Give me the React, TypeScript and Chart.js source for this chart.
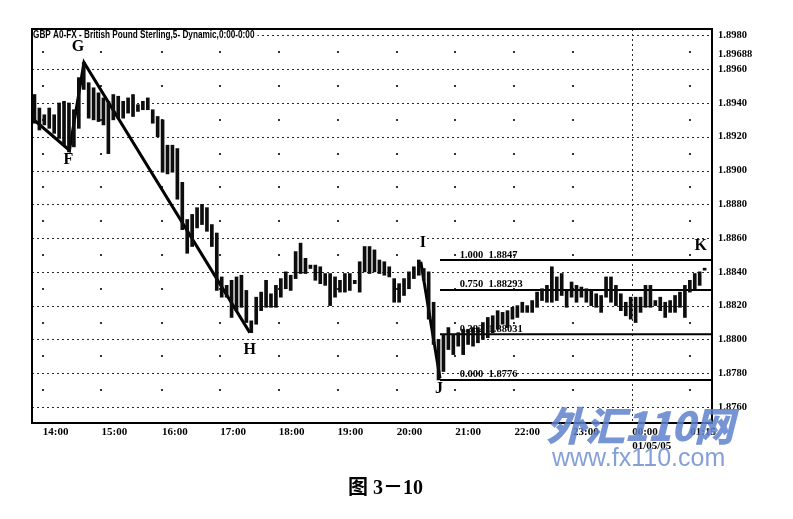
import React, { useEffect, useRef } from 'react';
import { Chart, registerables } from 'chart.js';

Chart.register(...registerables);

// 5-minute bars, GBP/USD (high / low per bar)
const barHighs = [
  1.8945, 1.8937, 1.8933, 1.8937, 1.8933, 1.8940, 1.8941, 1.8940, 1.8936, 1.8955,
  1.8964, 1.8952, 1.8949, 1.8946, 1.8943, 1.8941, 1.8945, 1.8944, 1.8941, 1.8943,
  1.8945, 1.8939, 1.8941, 1.8943, 1.8936, 1.8932, 1.8930, 1.8915, 1.8915, 1.8913,
  1.8893, 1.8871, 1.8874, 1.8878, 1.8880, 1.8878, 1.8868, 1.8863, 1.8837, 1.8832,
  1.8835, 1.8837, 1.8838, 1.8829, 1.8811, 1.8825, 1.8828, 1.8835, 1.8827, 1.8832,
  1.8836, 1.8840, 1.8838, 1.8852, 1.8857, 1.8848, 1.8844, 1.8844, 1.8843, 1.8839,
  1.8839, 1.8837, 1.8835, 1.8839, 1.8839, 1.8835, 1.8846, 1.8855, 1.8855, 1.8853,
  1.8847, 1.8846, 1.8843, 1.8836, 1.8833, 1.8836, 1.8840, 1.8843, 1.8847, 1.8842,
  1.8840, 1.8822, 1.8800, 1.8803, 1.8807, 1.8803, 1.8804, 1.8806, 1.8806, 1.8807,
  1.8807, 1.8810, 1.8813, 1.8814, 1.8817, 1.8816, 1.8817, 1.8819, 1.8820, 1.8822,
  1.8820, 1.8823, 1.8828, 1.8830, 1.8832, 1.8843, 1.8837, 1.8839, 1.8829, 1.8834,
  1.8832, 1.8831, 1.8830, 1.8829, 1.8827, 1.8826, 1.8837, 1.8837, 1.8832, 1.8827,
  1.8822, 1.8825, 1.8825, 1.8825, 1.8832, 1.8832, 1.8823, 1.8825, 1.8822, 1.8823,
  1.8826, 1.8828, 1.8832, 1.8835, 1.8839, 1.8840, 1.8842,
];
const barLows = [
  1.8928, 1.8924, 1.8927, 1.8925, 1.8922, 1.8919, 1.8915, 1.8911, 1.8914, 1.8925,
  1.8948, 1.8931, 1.8930, 1.8929, 1.8927, 1.8910, 1.8930, 1.8931, 1.8931, 1.8934,
  1.8932, 1.8935, 1.8936, 1.8936, 1.8928, 1.8920, 1.8899, 1.8898, 1.8899, 1.8883,
  1.8865, 1.8851, 1.8855, 1.8866, 1.8868, 1.8864, 1.8855, 1.8829, 1.8825, 1.8825,
  1.8813, 1.8817, 1.8819, 1.8810, 1.8804, 1.8809, 1.8817, 1.8819, 1.8819, 1.8819,
  1.8825, 1.8830, 1.8829, 1.8836, 1.8839, 1.8839, 1.8842, 1.8835, 1.8833, 1.8832,
  1.8820, 1.8825, 1.8828, 1.8828, 1.8829, 1.8833, 1.8828, 1.8840, 1.8839, 1.8840,
  1.8839, 1.8838, 1.8837, 1.8822, 1.8822, 1.8826, 1.8830, 1.8836, 1.8838, 1.8835,
  1.8812, 1.8797, 1.8776, 1.8781, 1.8794, 1.8791, 1.8796, 1.8791, 1.8797, 1.8796,
  1.8798, 1.8800, 1.8801, 1.8804, 1.8806, 1.8809, 1.8807, 1.8812, 1.8813, 1.8816,
  1.8816, 1.8816, 1.8819, 1.8823, 1.8822, 1.8822, 1.8823, 1.8826, 1.8819, 1.8825,
  1.8822, 1.8825, 1.8822, 1.8820, 1.8819, 1.8816, 1.8825, 1.8822, 1.8820, 1.8817,
  1.8814, 1.8812, 1.8810, 1.8816, 1.8819, 1.8819, 1.8820, 1.8817, 1.8813, 1.8816,
  1.8816, 1.8819, 1.8813, 1.8828, 1.8830, 1.8832, 1.8841,
];

// F - G - H swing line (bar index, price)
const swingX = [-0.5, 7.1, 10.05, 43.7];
const swingY = [1.8931, 1.8912, 1.8964, 1.8804];
// I - J drop line
const dropX = [78.4, 82.3];
const dropY = [1.8846, 1.8777];

// Fibonacci levels drawn from J
const fibRatios = ['1.000', '0.750', '0.382', '0.000'];
const fibLevels = [1.8847, 1.88293, 1.88031, 1.8776];
const fibTexts = ['1.8847', '1.88293', '1.88031', '1.8776'];
const fibStartX = 82.3;
const fibTextX = 86.3;

// point letters
const markNames = ['G', 'F', 'H', 'I', 'J', 'K'];
const markX = [10.05, 7.1, 43.7, 78.4, 82.3, 136];
const markY = [1.8964, 1.8912, 1.8804, 1.8846, 1.8777, 1.8842];

// axes
const xMin = -0.5;
const xMax = 137.5;
const xTickPos = [1.7, 13.6, 25.9, 37.7, 49.6, 61.5, 73.5, 85.4, 97.4, 109.3, 121.3, 133.1];
const xTickLabels = ['14:00', '15:00', '16:00', '17:00', '18:00', '19:00', '20:00', '21:00', '22:00', '23:00', '00:00', '01:15'];
const dayTickIndex = 10;
const dayLabel = '01/05/05';

const yMin = 1.87505;
const yMax = 1.89838;
const gridLevels = [1.8760, 1.8780, 1.8800, 1.8820, 1.8840, 1.8860, 1.8880, 1.8900, 1.8920, 1.8940, 1.8960, 1.8980];
const yTickValues = [1.8760, 1.8780, 1.8800, 1.8820, 1.8840, 1.8860, 1.8880, 1.8900, 1.8920, 1.8940, 1.8960, 1.89688, 1.8980];
const yTickLabels = ['1.8760', '1.8780', '1.8800', '1.8820', '1.8840', '1.8860', '1.8880', '1.8900', '1.8920', '1.8940', '1.8960', '1.89688', '1.8980'];

const chartTitle = 'GBP A0-FX - British Pound Sterling,5- Dynamic,0:00-0:00';
const caption = '图 3－10';

const SERIF = '"Liberation Serif", "Times New Roman", serif';

const bookPlugin = {
  id: 'bookPlugin',
  beforeDatasetsDraw(chart: any) {
    const { ctx, chartArea: a, scales } = chart;
    const x = scales.x;
    const y = scales.y;
    ctx.save();
    // dotted horizontal grid
    ctx.strokeStyle = '#2a2a2a';
    ctx.lineWidth = 1;
    ctx.setLineDash([2, 3]);
    gridLevels.forEach((v) => {
      const py = Math.round(y.getPixelForValue(v)) + 0.5;
      if (py <= a.top + 2 || py >= a.bottom - 2) return;
      ctx.beginPath();
      ctx.moveTo(a.left, py);
      ctx.lineTo(a.right, py);
      ctx.stroke();
    });
    // day separator
    const dx = Math.round(x.getPixelForValue(xTickPos[dayTickIndex])) + 0.5;
    ctx.beginPath();
    ctx.moveTo(dx, a.top);
    ctx.lineTo(dx, a.bottom);
    ctx.stroke();
    ctx.setLineDash([]);
    // sparse hour dots
    ctx.fillStyle = '#333';
    xTickPos.forEach((t, k) => {
      if (k === dayTickIndex) return;
      const px = Math.round(x.getPixelForValue(t));
      for (let j = 0; j < gridLevels.length - 1; j++) {
        const mid = (gridLevels[j] + gridLevels[j + 1]) / 2;
        const py = Math.round(y.getPixelForValue(mid));
        ctx.fillRect(px - 1, py - 1, 2, 2);
      }
    });
    // title (condensed)
    ctx.font = 'bold 10px "Liberation Sans", "DejaVu Sans", sans-serif';
    const tw = ctx.measureText(chartTitle).width * 0.82;
    ctx.fillStyle = '#fff';
    ctx.fillRect(a.left + 1, a.top + 1, tw + 3, 11);
    ctx.fillStyle = '#000';
    ctx.textBaseline = 'middle';
    ctx.textAlign = 'left';
    ctx.save();
    ctx.translate(a.left + 1, a.top + 6.5);
    ctx.scale(0.82, 1);
    ctx.fillText(chartTitle, 0, 0);
    ctx.restore();
    // fib labels (under the bars)
    ctx.font = 'bold 10.5px ' + SERIF;
    ctx.textBaseline = 'alphabetic';
    fibLevels.forEach((lv, k) => {
      const px = x.getPixelForValue(fibTextX);
      const py = y.getPixelForValue(lv) - 2.5;
      ctx.fillText(fibRatios[k] + '  ' + fibTexts[k], px, py);
    });
    ctx.restore();
  },
  afterDatasetsDraw(chart: any) {
    const { ctx, chartArea: a, scales } = chart;
    const x = scales.x;
    const y = scales.y;
    ctx.save();
    // letters
    const offs: Record<string, [number, number]> = {
      G: [-6, -16], F: [-1, 10], H: [0, 17], I: [2, -19], J: [-1, 11], K: [-4, -23],
    };
    ctx.font = 'bold 16px ' + SERIF;
    ctx.fillStyle = '#000';
    ctx.textAlign = 'center';
    ctx.textBaseline = 'middle';
    markNames.forEach((n, k) => {
      const o = offs[n];
      ctx.fillText(n, x.getPixelForValue(markX[k]) + o[0], y.getPixelForValue(markY[k]) + o[1]);
    });
    // frame
    ctx.strokeStyle = '#000';
    ctx.lineWidth = 2;
    ctx.strokeRect(a.left, a.top, a.right - a.left, a.bottom - a.top);
    ctx.restore();
  },
};

export default function App() {
  const ref = useRef<HTMLCanvasElement | null>(null);

  useEffect(() => {
    if (!ref.current) return;
    const bars = barHighs.map((h, i) => ({ x: i, y: [barLows[i], h] }));
    const lineStyle = { borderColor: '#000', pointRadius: 0, tension: 0, fill: false };
    const chart = new Chart(ref.current, {
      type: 'bar',
      data: {
        datasets: [
          {
            type: 'bar',
            data: bars as any,
            backgroundColor: '#0d0d0d',
            barThickness: 3,
            minBarLength: 2,
            grouped: false,
          } as any,
          {
            type: 'line',
            data: swingX.map((v, i) => ({ x: v, y: swingY[i] })),
            borderWidth: 3,
            ...lineStyle,
          } as any,
          {
            type: 'line',
            data: dropX.map((v, i) => ({ x: v, y: dropY[i] })),
            borderWidth: 3,
            ...lineStyle,
          } as any,
          ...fibLevels.map((lv) => ({
            type: 'line',
            data: [{ x: fibStartX, y: lv }, { x: xMax, y: lv }],
            borderWidth: 2,
            ...lineStyle,
          })) as any,
        ],
      },
      options: {
        animation: false,
        responsive: false,
        maintainAspectRatio: false,
        layout: { padding: { left: 32, top: 29, right: 0, bottom: 56 } },
        plugins: { legend: { display: false }, tooltip: { enabled: false } },
        scales: {
          x: {
            type: 'linear',
            min: xMin,
            max: xMax,
            offset: false,
            grid: { display: false, drawTicks: false },
            border: { display: false },
            afterBuildTicks: (s: any) => {
              s.ticks = xTickPos.map((v) => ({ value: v }));
            },
            afterFit: (s: any) => {
              s.height = 40;
            },
            ticks: {
              autoSkip: false,
              maxRotation: 0,
              minRotation: 0,
              align: 'start',
              padding: 3,
              color: '#000',
              font: { family: SERIF, size: 11, weight: 'bold' },
              callback: (_v: any, idx: number) =>
                idx === dayTickIndex ? [xTickLabels[idx], dayLabel] : xTickLabels[idx],
            },
          },
          y: {
            type: 'linear',
            position: 'right',
            min: yMin,
            max: yMax,
            grid: { display: false, drawTicks: false },
            border: { display: false },
            afterBuildTicks: (s: any) => {
              s.ticks = yTickValues.map((v) => ({ value: v }));
            },
            afterFit: (s: any) => {
              s.width = 81;
            },
            ticks: {
              autoSkip: false,
              padding: 6,
              color: '#000',
              font: { family: SERIF, size: 10.5, weight: 'bold' },
              callback: (_v: any, idx: number) => yTickLabels[idx],
            },
          },
        },
      } as any,
      plugins: [bookPlugin],
    });
    return () => chart.destroy();
  }, []);

  return (
    <div style={{ position: 'absolute', left: 0, top: 0, width: 793, height: 519, background: '#fff', overflow: 'hidden' }}>
      <canvas ref={ref} width={793} height={519} style={{ display: 'block', width: 793, height: 519 }} />
      <div
        style={{
          position: 'absolute', left: 546, top: 404, fontSize: 40, lineHeight: 1,
          fontFamily: '"Noto Sans CJK SC", sans-serif', fontWeight: 900, fontStyle: 'italic',
          color: 'rgba(95,130,205,0.85)', whiteSpace: 'nowrap', letterSpacing: -1,
        }}
      >
        外汇110网
      </div>
      <div
        style={{
          position: 'absolute', left: 552, top: 445, fontSize: 25, lineHeight: 1,
          fontFamily: '"Liberation Sans", Arial, sans-serif',
          color: 'rgba(120,150,212,0.9)', whiteSpace: 'nowrap',
        }}
      >
        www.fx110.com
      </div>
      <div
        style={{
          position: 'absolute', left: 348, top: 477, fontSize: 20, lineHeight: 1,
          fontFamily: SERIF + ', "Noto Sans CJK SC"', fontWeight: 'bold', color: '#000', whiteSpace: 'nowrap',
        }}
      >
        {caption}
      </div>
    </div>
  );
}
